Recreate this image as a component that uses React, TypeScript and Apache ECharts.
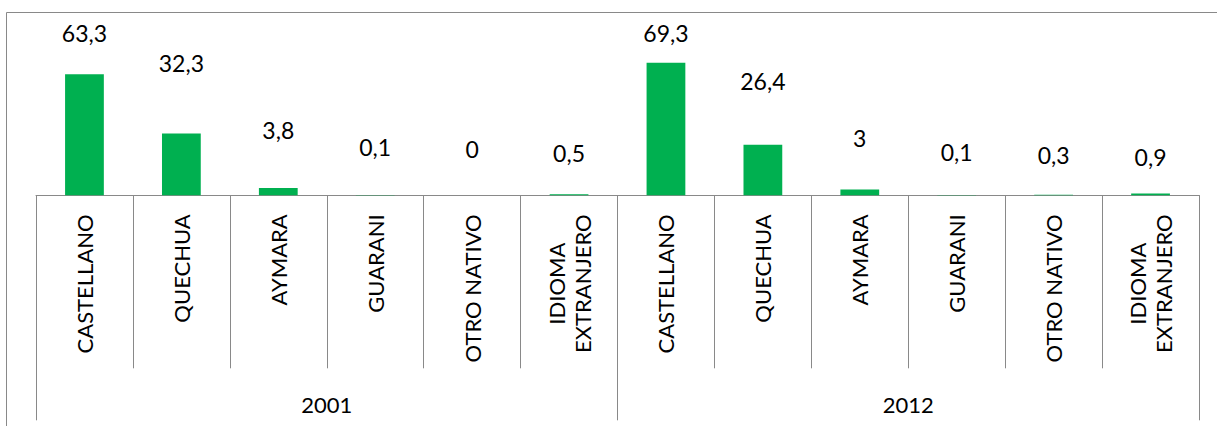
import React, { useEffect, useRef } from "react";
import * as echarts from "echarts";

const languages = [
  "CASTELLANO", "QUECHUA", "AYMARA", "GUARANI", "OTRO NATIVO", "IDIOMA EXTRANJERO",
  "CASTELLANO", "QUECHUA", "AYMARA", "GUARANI", "OTRO NATIVO", "IDIOMA EXTRANJERO",
];
const years = ["2001", "2012"];
const values = [63.3, 32.3, 3.8, 0.1, 0, 0.5, 69.3, 26.4, 3, 0.1, 0.3, 0.9];
// extra gap (px) between each bar top and its value label, as placed in the original
const labelGap = [29, 58, 46, 36, 34, 29, 18, 52, 40, 31, 28, 25];

const FONT = "Lato";
const GRAY = "#898989";

export default function App() {
  const ref = useRef<HTMLDivElement>(null);
  useEffect(() => {
    document.body.style.margin = "0";
    const chart = echarts.init(ref.current!, null, { renderer: "svg" });
    chart.setOption({
      animation: false,
      textStyle: { fontFamily: FONT },
      grid: {
        left: 36,
        right: 18,
        top: 42.2,
        bottom: 230.7,
        containLabel: false,
        outerBoundsMode: "none",
      },
      graphic: [
        {
          type: "rect",
          shape: { x: 6.5, y: 12.5, width: 1400, height: 600 },
          style: { fill: "none", stroke: GRAY, lineWidth: 1 },
          silent: true,
        },
      ],
      xAxis: [
        {
          type: "category",
          data: languages,
          position: "bottom",
          boundaryGap: true,
          axisLine: { show: true, lineStyle: { color: GRAY, width: 1 } },
          axisTick: { show: true, interval: 0, length: 173, lineStyle: { color: GRAY } },
          axisLabel: {
            interval: 0,
            rotate: 90,
            margin: 19,
            fontFamily: FONT,
            fontSize: 22,
            color: "#000",
            hideOverlap: false,
            formatter: (v: string) => {
              const parts = v === "IDIOMA EXTRANJERO" ? ["IDIOMA", "EXTRANJERO"] : [v];
              return parts.map((p) => "{c|" + p + "}").join("\n");
            },
            rich: {
              c: { align: "center", fontFamily: FONT, fontSize: 22, color: "#000", lineHeight: 26 },
            },
          },
          splitLine: { show: false },
        },
        {
          type: "category",
          data: years,
          position: "bottom",
          offset: 0,
          boundaryGap: true,
          axisLine: { show: false },
          axisTick: { show: true, interval: 0, length: 225, lineStyle: { color: GRAY } },
          axisLabel: {
            interval: 0,
            margin: 196,
            fontFamily: FONT,
            fontSize: 22,
            lineHeight: 26,
            color: "#000",
          },
          splitLine: { show: false },
        },
      ],
      yAxis: { type: "value", min: 0, max: 80, show: false },
      series: [
        {
          type: "bar",
          xAxisIndex: 0,
          barWidth: "40%",
          itemStyle: { color: "#00B050" },
          data: values.map((v, i) => ({
            value: v,
            label: { distance: labelGap[i] },
          })),
          label: {
            show: true,
            position: "top",
            fontFamily: FONT,
            fontSize: 23,
            lineHeight: 24,
            color: "#000",
            formatter: (p: any) => String(p.value).replace(".", ","),
          },
        },
      ],
    });
    return () => chart.dispose();
  }, []);
  return <div ref={ref} style={{ width: 1217, height: 426 }} />;
}
